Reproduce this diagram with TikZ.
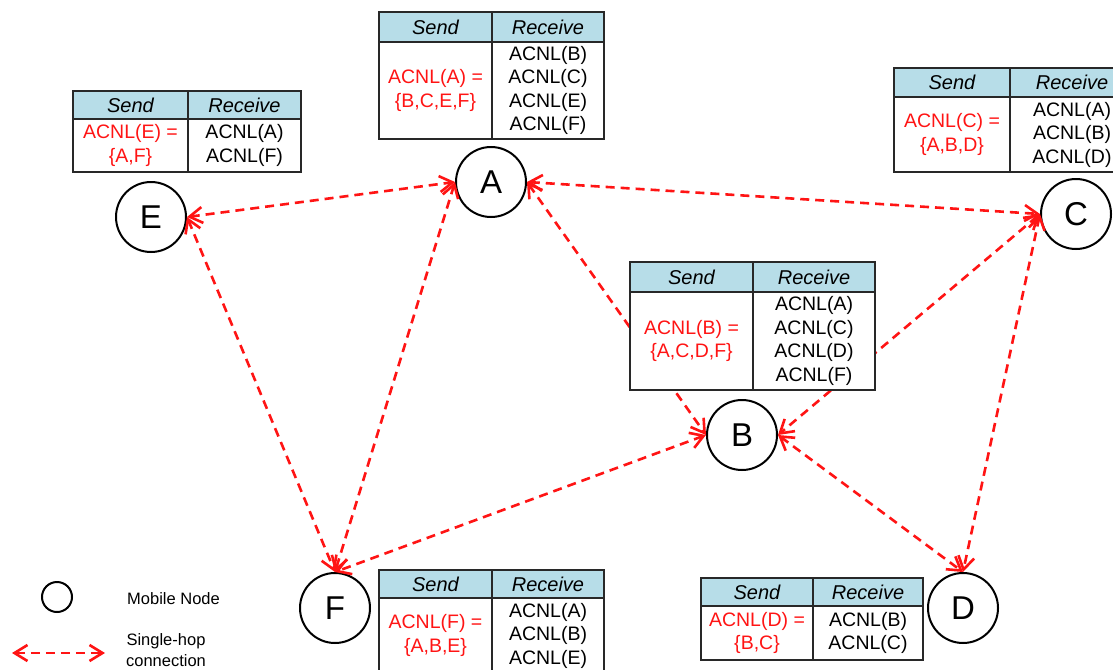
\documentclass[tikz,border=0pt]{standalone}
\usepackage{fontspec}
\setmainfont{Liberation Sans}
\usetikzlibrary{arrows.meta,positioning}
\definecolor{hdrblue}{RGB}{183,221,232}
\definecolor{linkred}{RGB}{255,20,20}
\definecolor{framegray}{RGB}{40,40,40}

\begin{document}
\begin{tikzpicture}[
  x=1pt,y=-1pt,
  mnode/.style={circle,draw=black,line width=2pt,fill=white,minimum size=70pt,inner sep=0pt,
    font=\fontsize{33}{33}\selectfont},
  hdr/.style={rectangle,draw=framegray,line width=1.8pt,fill=hdrblue,minimum height=29pt,
    inner sep=0pt,outer sep=0pt,font=\fontsize{20}{23.5}\selectfont\itshape},
  cell/.style={rectangle,draw=framegray,line width=1.8pt,fill=white,inner sep=0pt,outer sep=0pt,
    align=center,font=\fontsize{19.5}{23.5}\selectfont},
  sendtxt/.style={cell,text=linkred},
  link/.style={{Straight Barb[length=13pt,width=16pt]}-{Straight Barb[length=13pt,width=16pt]},
    linkred,line width=2.6pt,dash pattern=on 9pt off 6pt},
]
  \useasboundingbox (0,0) rectangle (1113,669);
  \clip (0,0) rectangle (1113,669);

  % mobile nodes
  \node[mnode] (A) at (491,182) {A};
  \node[mnode] (E) at (151,217) {E};
  \node[mnode] (C) at (1076,214) {C};
  \node[mnode] (B) at (742,435) {B};
  \node[mnode] (F) at (335,608) {F};
  \node[mnode] (D) at (963,608) {D};

  % single-hop links
  \draw[link] (E.east) -- (A.west);
  \draw[link] (E.east) -- (F.north);
  \draw[link] (A.west) -- (F.north);
  \draw[link] (A.east) -- (B.west);
  \draw[link] (A.east) -- (C.west);
  \draw[link] (C.west) -- (B.east);
  \draw[link] (C.west) -- (D.north);
  \draw[link] (B.west) -- (F.north);
  \draw[link] (B.east) -- (D.north);

  % table of A
  \node[hdr,minimum width=113pt,minimum height=30pt,anchor=north west] (sendA) at (379,12) {Send};
  \node[hdr,minimum width=112pt,minimum height=30pt,right=0pt of sendA] (recvA) {Receive};
  \node[sendtxt,minimum width=113pt,minimum height=97pt,below=0pt of sendA] (sendAbody) {ACNL(A) =\\\{B,C,E,F\}};
  \node[cell,minimum width=112pt,minimum height=97pt,below=0pt of recvA] (recvAbody) {ACNL(B)\\ACNL(C)\\ACNL(E)\\ACNL(F)};

  % table of E
  \node[hdr,minimum width=115pt,minimum height=28pt,anchor=north west] (sendE) at (73,91) {Send};
  \node[hdr,minimum width=113pt,minimum height=28pt,right=0pt of sendE] (recvE) {Receive};
  \node[sendtxt,minimum width=115pt,minimum height=53pt,below=0pt of sendE] (sendEbody) {ACNL(E) =\\\{A,F\}};
  \node[cell,minimum width=113pt,minimum height=53pt,below=0pt of recvE] (recvEbody) {ACNL(A)\\ACNL(F)};

  % table of C
  \node[hdr,minimum width=116pt,anchor=north west] (sendC) at (894,68) {Send};
  \node[hdr,minimum width=124pt,right=0pt of sendC] (recvC) {Receive};
  \node[sendtxt,minimum width=116pt,minimum height=75pt,below=0pt of sendC] (sendCbody) {ACNL(C) =\\\{A,B,D\}};
  \node[cell,minimum width=124pt,minimum height=75pt,below=0pt of recvC] (recvCbody) {ACNL(A)\\ACNL(B)\\ACNL(D)};

  % table of B
  \node[hdr,minimum width=123pt,minimum height=30pt,anchor=north west] (sendB) at (630,262) {Send};
  \node[hdr,minimum width=122pt,minimum height=30pt,right=0pt of sendB] (recvB) {Receive};
  \node[sendtxt,minimum width=123pt,minimum height=98pt,below=0pt of sendB] (sendBbody) {ACNL(B) =\\\{A,C,D,F\}};
  \node[cell,minimum width=122pt,minimum height=98pt,below=0pt of recvB] (recvBbody) {ACNL(A)\\ACNL(C)\\ACNL(D)\\ACNL(F)};

  % table of F
  \node[hdr,minimum width=113pt,minimum height=28pt,anchor=north west] (sendF) at (379,570) {Send};
  \node[hdr,minimum width=112pt,minimum height=28pt,right=0pt of sendF] (recvF) {Receive};
  \node[sendtxt,minimum width=113pt,minimum height=75pt,below=0pt of sendF] (sendFbody) {ACNL(F) =\\\{A,B,E\}};
  \node[cell,minimum width=112pt,minimum height=75pt,below=0pt of recvF] (recvFbody) {ACNL(A)\\ACNL(B)\\ACNL(E)};

  % table of D
  \node[hdr,minimum width=112pt,minimum height=28pt,anchor=north west] (sendD) at (701,578) {Send};
  \node[hdr,minimum width=110pt,minimum height=28pt,right=0pt of sendD] (recvD) {Receive};
  \node[sendtxt,minimum width=112pt,minimum height=54pt,below=0pt of sendD] (sendDbody) {ACNL(D) =\\\{B,C\}};
  \node[cell,minimum width=110pt,minimum height=54pt,below=0pt of recvD] (recvDbody) {ACNL(B)\\ACNL(C)};

  % legend
  \node[circle,draw=black,line width=2pt,minimum size=30pt,inner sep=0pt] (legnode) at (57,597) {};
  \node[anchor=west,inner sep=0pt,font=\fontsize{16.5}{19}\selectfont] (legnodetxt) at (127,599) {Mobile Node};
  \coordinate (legL) at (12,653);
  \coordinate (legR) at (105,653);
  \draw[link] (legL) -- (legR);
  \node[align=center,inner sep=0pt,font=\fontsize{16.5}{21}\selectfont] (legtxt) at (166,650) {Single-hop\\connection};
\end{tikzpicture}
\end{document}
